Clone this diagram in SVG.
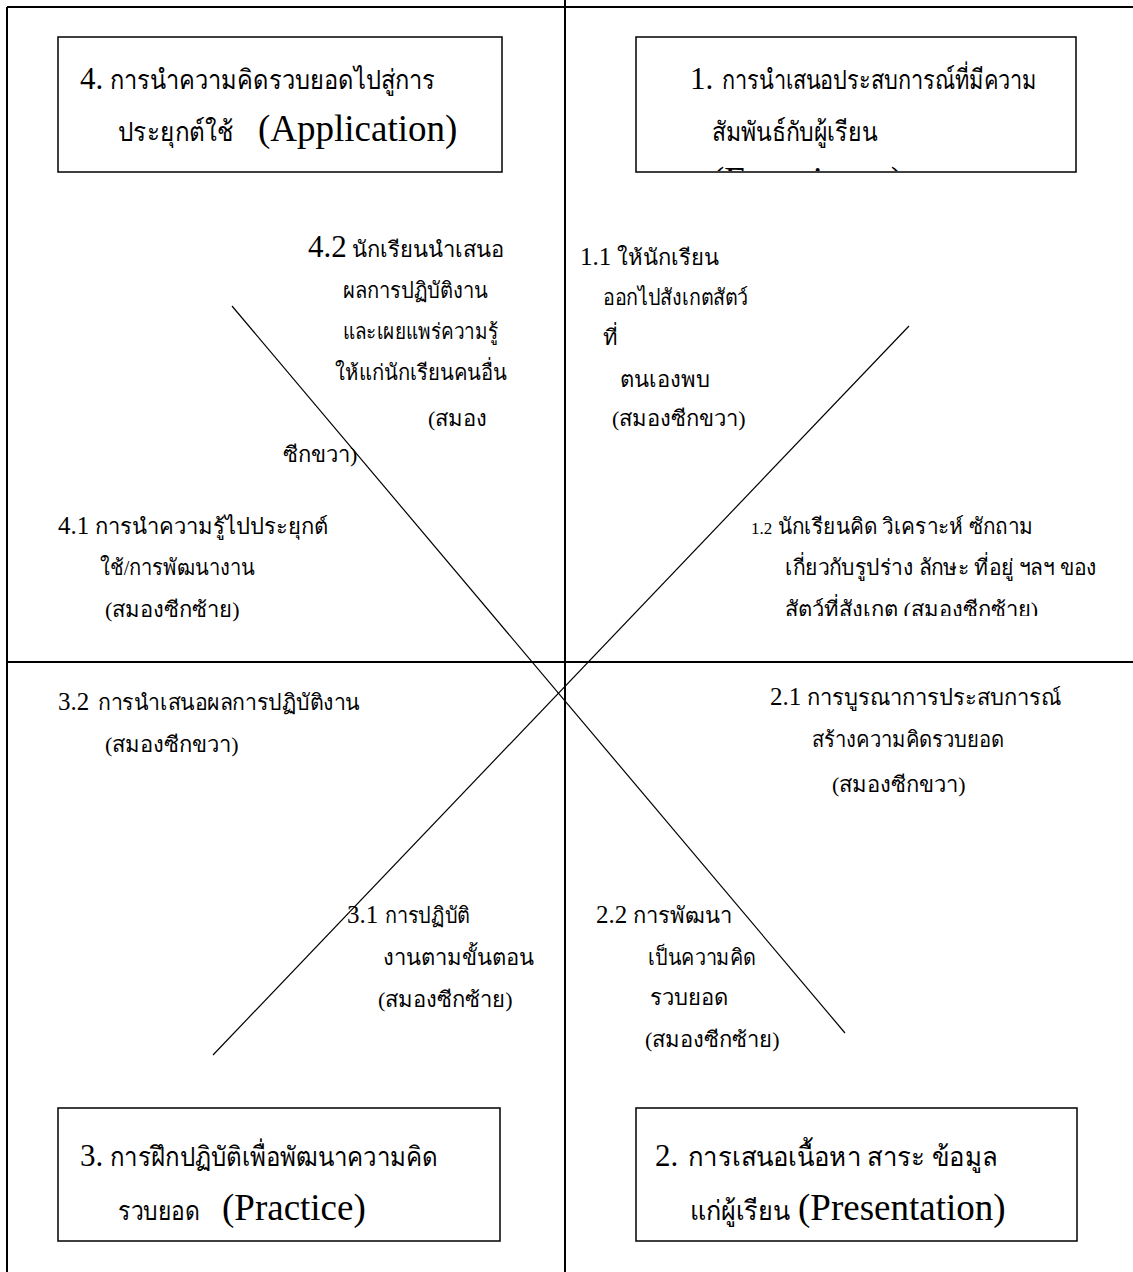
<svg xmlns="http://www.w3.org/2000/svg" width="1133" height="1272" viewBox="0 0 1133 1272">
  <defs>
    <style>
      .frame { stroke: #000; stroke-width: 2; fill: none; }
      .box { stroke: #000; stroke-width: 1.5; fill: #fff; }
      .diag { stroke: #000; stroke-width: 1.2; fill: none; }
      text { font-family: "Liberation Serif", "Noto Sans", "DejaVu Sans", serif; fill: #000; }
      .th { font-size: 22px; }
      .thb { font-size: 27px; }
      .num { font-size: 31px; }
      .numS { font-size: 25px; }
      .en { font-size: 37px; }
    </style>
    <clipPath id="clipBox1"><rect x="637" y="38" width="439" height="133"/></clipPath>
    <clipPath id="clipItem12"><rect x="700" y="480" width="433" height="136"/></clipPath>
  </defs>
  <rect width="1133" height="1272" fill="#fff"/>

  <!-- table frame -->
  <g id="frame">
    <line class="frame" x1="7" y1="7" x2="1133" y2="7"/>
    <line class="frame" x1="7" y1="7" x2="7" y2="1272"/>
    <line class="frame" x1="565" y1="0" x2="565" y2="1272"/>
    <line class="frame" x1="7" y1="662" x2="1133" y2="662"/>
  </g>

  <!-- connectors: the two crossing diagonals -->
  <g id="connectors">
    <line class="diag" x1="232" y1="306" x2="845" y2="1033"/>
    <line class="diag" x1="909" y1="326" x2="213" y2="1055"/>
  </g>

  <!-- stage 4 -->
  <g id="stage4">
    <rect class="box" x="58" y="37" width="444" height="135"/>
    <text y="89"><tspan x="80" class="num">4.</tspan><tspan x="110" class="thb" textLength="325" lengthAdjust="spacingAndGlyphs">การนำความคิดรวบยอดไปสู่การ</tspan></text>
    <text y="141"><tspan x="118" class="thb" textLength="115" lengthAdjust="spacingAndGlyphs">ประยุกต์ใช้</tspan><tspan x="258" class="en">(Application)</tspan></text>
  </g>

  <!-- stage 1 -->
  <g id="stage1">
    <rect class="box" x="636" y="37" width="440" height="135"/>
    <g clip-path="url(#clipBox1)">
      <text y="89"><tspan x="690" class="num">1.</tspan><tspan x="722" class="thb" textLength="315" lengthAdjust="spacingAndGlyphs">การนำเสนอประสบการณ์ที่มีความ</tspan></text>
      <text x="712" y="141" class="thb" textLength="165" lengthAdjust="spacingAndGlyphs">สัมพันธ์กับผู้เรียน</text>
      <text x="712" y="193" class="en">(Experience)</text>
    </g>
  </g>

  <!-- stage 3 -->
  <g id="stage3">
    <rect class="box" x="58" y="1108" width="442" height="133"/>
    <text y="1166"><tspan x="80" class="num">3.</tspan><tspan x="110" class="thb" textLength="328" lengthAdjust="spacingAndGlyphs">การฝึกปฏิบัติเพื่อพัฒนาความคิด</tspan></text>
    <text y="1220"><tspan x="118" class="thb" textLength="82" lengthAdjust="spacingAndGlyphs">รวบยอด</tspan><tspan x="222" class="en">(Practice)</tspan></text>
  </g>

  <!-- stage 2 -->
  <g id="stage2">
    <rect class="box" x="636" y="1108" width="441" height="133"/>
    <text y="1166"><tspan x="655" class="num">2.</tspan><tspan x="688" class="thb" textLength="310" lengthAdjust="spacingAndGlyphs">การเสนอเนื้อหา สาระ ข้อมูล</tspan></text>
    <text y="1220"><tspan x="690" class="thb" textLength="100" lengthAdjust="spacingAndGlyphs">แก่ผู้เรียน</tspan><tspan x="798" class="en">(Presentation)</tspan></text>
  </g>

  <!-- step 4.2 -->
  <g id="step4-2">
    <text x="308" y="257"><tspan class="num">4.2</tspan><tspan class="th"> นักเรียนนำเสนอ</tspan></text>
    <text x="343" y="298" class="th" textLength="145" lengthAdjust="spacingAndGlyphs">ผลการปฏิบัติงาน</text>
    <text x="343" y="339" class="th" textLength="155" lengthAdjust="spacingAndGlyphs">และเผยแพร่ความรู้</text>
    <text x="335" y="380" class="th" textLength="172" lengthAdjust="spacingAndGlyphs">ให้แก่นักเรียนคนอื่น</text>
    <text x="428" y="426" class="th">(สมอง</text>
    <text x="283" y="462" class="th">ซีกขวา)</text>
  </g>

  <!-- step 1.1 -->
  <g id="step1-1">
    <text x="580" y="265"><tspan class="numS">1.1</tspan><tspan class="th"> ให้นักเรียน</tspan></text>
    <text x="603" y="305" class="th" textLength="145" lengthAdjust="spacingAndGlyphs">ออกไปสังเกตสัตว์</text>
    <text x="603" y="345" class="th">ที่</text>
    <text x="620" y="387" class="th">ตนเองพบ</text>
    <text x="612" y="426" class="th">(สมองซีกขวา)</text>
  </g>

  <!-- step 4.1 -->
  <g id="step4-1">
    <text x="58" y="534"><tspan class="numS">4.1</tspan><tspan class="th"> การนำความรู้ไปประยุกต์</tspan></text>
    <text x="100" y="575" class="th" textLength="155" lengthAdjust="spacingAndGlyphs">ใช้/การพัฒนางาน</text>
    <text x="105" y="617" class="th">(สมองซีกซ้าย)</text>
  </g>

  <!-- step 1.2 -->
  <g id="step1-2" clip-path="url(#clipItem12)">
    <text y="534"><tspan x="751" font-size="17px">1.2</tspan><tspan x="778" class="th" textLength="255" lengthAdjust="spacingAndGlyphs">นักเรียนคิด  วิเคราะห์  ซักถาม</tspan></text>
    <text x="785" y="575" class="th" textLength="312" lengthAdjust="spacingAndGlyphs">เกี่ยวกับรูปร่าง ลักษะ ที่อยู่ ฯลฯ ของ</text>
    <text x="785" y="617" class="th">สัตว์ที่สังเกต (สมองซีกซ้าย)</text>
  </g>

  <!-- step 3.2 -->
  <g id="step3-2">
    <text y="710"><tspan x="58" class="numS">3.2</tspan><tspan x="98" class="th" textLength="262" lengthAdjust="spacingAndGlyphs">การนำเสนอผลการปฏิบัติงาน</tspan></text>
    <text x="105" y="752" class="th">(สมองซีกขวา)</text>
  </g>

  <!-- step 2.1 -->
  <g id="step2-1">
    <text x="770" y="705"><tspan class="numS">2.1</tspan><tspan class="th"> การบูรณาการประสบการณ์</tspan></text>
    <text x="812" y="747" class="th" textLength="192" lengthAdjust="spacingAndGlyphs">สร้างความคิดรวบยอด</text>
    <text x="832" y="792" class="th">(สมองซีกขวา)</text>
  </g>

  <!-- step 3.1 -->
  <g id="step3-1">
    <text y="923"><tspan x="347" class="numS">3.1</tspan><tspan x="385" class="th" textLength="85" lengthAdjust="spacingAndGlyphs">การปฏิบัติ</tspan></text>
    <text x="383" y="965" class="th">งานตามขั้นตอน</text>
    <text x="378" y="1007" class="th">(สมองซีกซ้าย)</text>
  </g>

  <!-- step 2.2 -->
  <g id="step2-2">
    <text x="596" y="923"><tspan class="numS">2.2</tspan><tspan class="th"> การพัฒนา</tspan></text>
    <text x="648" y="965" class="th" textLength="108" lengthAdjust="spacingAndGlyphs">เป็นความคิด</text>
    <text x="650" y="1005" class="th">รวบยอด</text>
    <text x="645" y="1047" class="th">(สมองซีกซ้าย)</text>
  </g>
</svg>
